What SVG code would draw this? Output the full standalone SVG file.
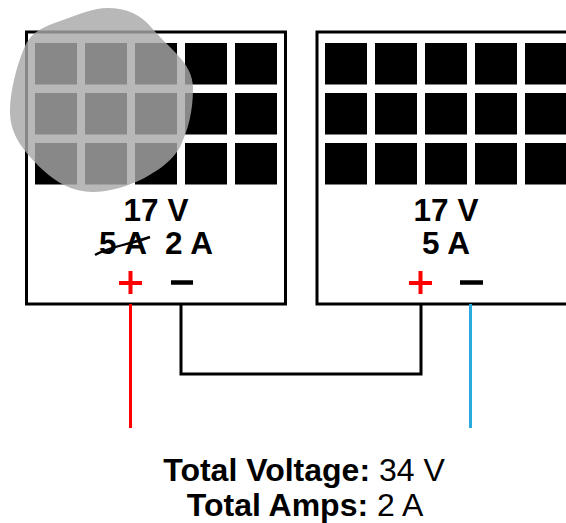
<svg xmlns="http://www.w3.org/2000/svg" width="566" height="523" viewBox="0 0 566 523">
<style>
text{font-family:"Liberation Sans",Arial,sans-serif;text-anchor:middle;fill:#000}
.b{font-weight:700;font-size:31.500px}
.t{font-size:32px}
.t tspan{font-weight:700}
.frame{fill:#fff;stroke:#000;stroke-width:3}
.wire{fill:none;stroke-width:3}
.sign{fill:none;stroke-width:4}
.minus{fill:none;stroke:#000;stroke-width:4.500}
</style>
<defs>
<g id="cells">
<rect x="0" y="0" width="42" height="41.500"/><rect x="50" y="0" width="42" height="41.500"/><rect x="100" y="0" width="42" height="41.500"/><rect x="150" y="0" width="42" height="41.500"/><rect x="200" y="0" width="42" height="41.500"/>
<rect x="0" y="50" width="42" height="41.500"/><rect x="50" y="50" width="42" height="41.500"/><rect x="100" y="50" width="42" height="41.500"/><rect x="150" y="50" width="42" height="41.500"/><rect x="200" y="50" width="42" height="41.500"/>
<rect x="0" y="100" width="42" height="41.500"/><rect x="50" y="100" width="42" height="41.500"/><rect x="100" y="100" width="42" height="41.500"/><rect x="150" y="100" width="42" height="41.500"/><rect x="200" y="100" width="42" height="41.500"/>
</g>
</defs>
<g id="panel-1">
<rect class="frame" x="26.500" y="32" width="259" height="272"/>
<use href="#cells" x="35" y="43"/>
<text class="b" x="156" y="221">17 V</text>
<text class="b" x="123" y="254">5 A</text>
<text class="b" x="189" y="254">2 A</text>
<path d="M95 255C108 247 135 243 150 237" fill="none" stroke="#000" stroke-width="2.500"/>
<path class="sign" stroke="#f00" d="M119 283H142M130.500 271V294"/>
<path class="minus" d="M171 282.500H193"/>
</g>
<g id="panel-2">
<rect class="frame" x="317" y="32" width="260" height="272"/>
<use href="#cells" x="325" y="43"/>
<text class="b" x="446" y="221">17 V</text>
<text class="b" x="446" y="254">5 A</text>
<path class="sign" stroke="#f00" d="M409 283H432M420.500 271V294"/>
<path class="minus" d="M460 282.500H483"/>
</g>
<g id="connectors">
<path class="wire" stroke="#f00" d="M130.500 304V428"/>
<path class="wire" stroke="#000" d="M181 304V374H421V304"/>
<path class="wire" stroke="#29abe2" d="M470.500 304V428"/>
</g>
<g id="shade">
<path fill="#a8a8a8" fill-opacity=".81" d="M107 8C127 8 141 15 151 27C168 48 193 62 193 88C193 112 188 130 180 147C168 170 125 192 93 192C72 192 56 182 43 170C24 152 10 135 10 112C10 90 18 60 27 42C36 28 50 25 63 20C80 14 94 8 107 8Z"/>
</g>
<g id="totals">
<text class="t" x="304" y="481"><tspan>Total Voltage:</tspan> 34 V</text>
<text class="t" x="305" y="516"><tspan>Total Amps:</tspan> 2 A</text>
</g>
</svg>
